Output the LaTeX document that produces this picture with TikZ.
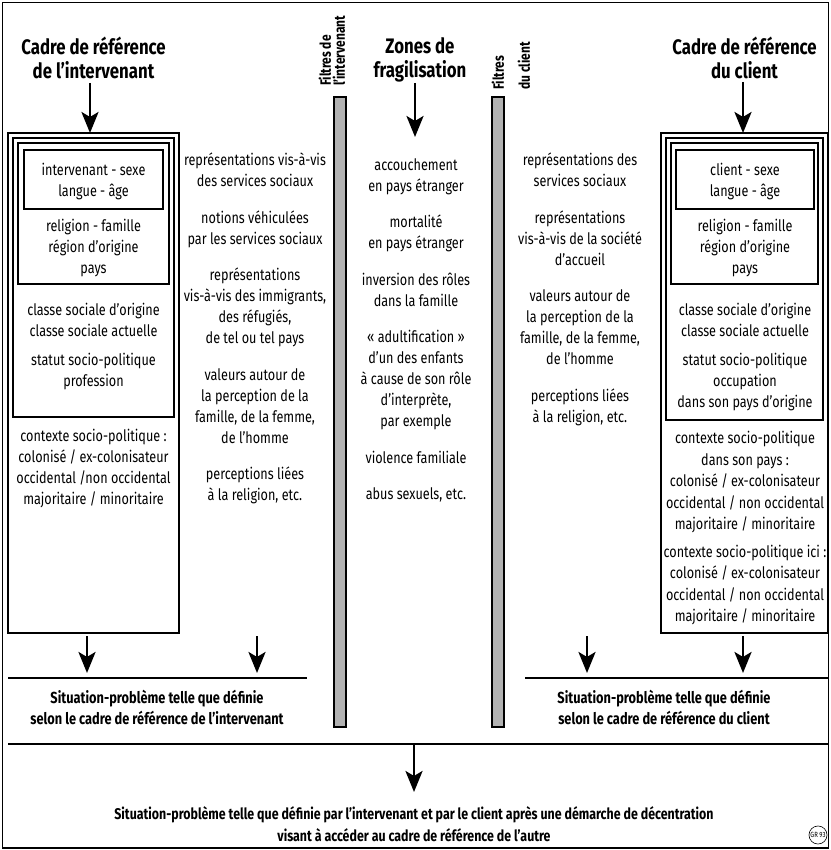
\documentclass[tikz,border=0pt]{standalone}
\usepackage{fontspec}
\setmainfont{Fira Sans}[FakeStretch=0.8]
\usetikzlibrary{arrows.meta}
\newcommand\firststrut{\rule{0pt}{12pt}}
\newcommand\headstrut{\rule{0pt}{15pt}}
\newcommand\sitstrut{\rule{0pt}{11.5pt}}
\tikzset{
  frameline/.style={draw, line width=1.2pt},
  boxline/.style={draw, line width=1.2pt},
  col/.style={align=center, inner sep=0pt, anchor=north, font=\fontsize{15.8}{21}\selectfont},
  colb/.style={align=center, inner sep=0pt, anchor=north, font=\fontsize{15.8}{21.5}\selectfont},
  head/.style={align=center, inner sep=0pt, anchor=north, font=\bfseries\fontsize{21}{24}\selectfont},
  sit/.style={align=center, inner sep=0pt, anchor=north, font=\bfseries\fontsize{16}{21}\selectfont},
  sitf/.style={align=center, inner sep=0pt, anchor=north, font=\bfseries\fontsize{15.5}{22}\selectfont},
  filt/.style={rotate=90, anchor=west, inner sep=0pt, font=\bfseries\fontsize{15}{16}\selectfont},
  bigarrow/.style={line width=2.8pt, -{Stealth[length=21pt,width=17pt,inset=5pt]}},
  hline/.style={line width=1.5pt},
  filterbar/.style={draw, line width=1.2pt, fill=black!30},
}
\begin{document}
\begin{tikzpicture}[x=1pt,y=-1pt]
\useasboundingbox (0,0) rectangle (830,850);
\draw[frameline] (2.5,2.5) rectangle (828.5,848);

% headings
\node[head] (hl) at (93.5,37) {\headstrut Cadre de référence\\de l’intervenant};
\node[head] (hm) at (420,37) {\headstrut Zones de\\fragilisation};
\node[head] (hr) at (744.5,37) {\headstrut Cadre de référence\\du client};

% filter labels and bars
\node[filt] (f1a) at (325,86) {Filtres de};
\node[filt] (f1b) at (339,86) {l’intervenant};
\node[filt] (f2a) at (498,90) {Filtres};
\node[filt] (f2b) at (524,90) {du client};
\draw[filterbar] (334,97) rectangle (346,727);
\draw[filterbar] (492,97) rectangle (504,727);

% top arrows
\coordinate (al0) at (90,83);  \coordinate (al1) at (90,133);
\coordinate (am0) at (415,83); \coordinate (am1) at (415,137);
\coordinate (ar0) at (743,82); \coordinate (ar1) at (743,133);
\draw[bigarrow] (al0) -- (al1);
\draw[bigarrow] (am0) -- (am1);
\draw[bigarrow] (ar0) -- (ar1);

% left frame of reference boxes
\draw[boxline] (8,133) rectangle (179,633);
\draw[boxline] (13,138) rectangle (174,417);
\draw[boxline] (18,143) rectangle (169,284);
\draw[boxline] (24,150) rectangle (163,209);
\node[col] (l1) at (93.5,163) {\firststrut intervenant - sexe\\langue - âge};
\node[col] (l2) at (93.5,218.5) {\firststrut religion - famille\\région d’origine\\pays};
\node[col] (l3) at (93.5,303) {\firststrut classe sociale d’origine\\classe sociale actuelle\\[8pt]statut socio-politique\\profession};
\node[col] (l4) at (93.5,429) {\firststrut contexte socio-politique :\\colonisé / ex-colonisateur\\occidental /non occidental\\majoritaire / minoritaire};

% right frame of reference boxes
\draw[boxline] (661,133) rectangle (828,633);
\draw[boxline] (666,138) rectangle (823,420);
\draw[boxline] (671,143) rectangle (818,284);
\draw[boxline] (676,150) rectangle (814,209);
\node[col] (r1) at (745,163) {\firststrut client - sexe\\langue - âge};
\node[col] (r2) at (745,218.5) {\firststrut religion - famille\\région d’origine\\pays};
\node[col] (r3) at (745,303) {\firststrut classe sociale d’origine\\classe sociale actuelle\\[8pt]statut socio-politique\\occupation\\dans son pays d’origine};
\node[colb] (r4) at (745,431) {\firststrut contexte socio-politique\\dans son pays :\\colonisé / ex-colonisateur\\occidental / non occidental\\majoritaire / minoritaire\\[6pt]contexte socio-politique ici :\\colonisé / ex-colonisateur\\occidental / non occidental\\majoritaire / minoritaire};

% filter columns
\node[col] (fl) at (255,153) {\firststrut représentations vis-à-vis\\des services sociaux\\[15.5pt]notions véhiculées\\par les services sociaux\\[15.5pt]représentations\\vis-à-vis des immigrants,\\des réfugiés,\\de tel ou tel pays\\[15.5pt]valeurs autour de\\la perception de la\\famille, de la femme,\\de l’homme\\[15.5pt]perceptions liées\\à la religion, etc.};
\node[col] (zm) at (416,158) {\firststrut accouchement\\en pays étranger\\[15.5pt]mortalité\\en pays étranger\\[15.5pt]inversion des rôles\\dans la famille\\[15.5pt]« adultification »\\d’un des enfants\\à cause de son rôle\\d’interprète,\\par exemple\\[15.5pt]violence familiale\\[15.5pt]abus sexuels, etc.};
\node[col] (fr) at (580,153) {\firststrut représentations des\\services sociaux\\[15.5pt]représentations\\vis-à-vis de la société\\d’accueil\\[15.5pt]valeurs autour de\\la perception de la\\famille, de la femme,\\de l’homme\\[15.5pt]perceptions liées\\à la religion, etc.};

% bottom arrows
\coordinate (b10) at (87,636);  \coordinate (b11) at (87,673);
\coordinate (b20) at (257,636); \coordinate (b21) at (257,673);
\coordinate (b30) at (587,636); \coordinate (b31) at (587,673);
\coordinate (b40) at (743,636); \coordinate (b41) at (743,673);
\draw[bigarrow] (b10) -- (b11);
\draw[bigarrow] (b20) -- (b21);
\draw[bigarrow] (b30) -- (b31);
\draw[bigarrow] (b40) -- (b41);

\coordinate (hl0) at (8,678);   \coordinate (hl1) at (307,678);
\coordinate (hr0) at (525,678); \coordinate (hr1) at (828,678);
\draw[hline] (hl0) -- (hl1);
\draw[hline] (hr0) -- (hr1);
\node[sit] (sl) at (157,690) {\sitstrut Situation-problème telle que définie\\selon le cadre de référence de l’intervenant};
\node[sit] (sr) at (664,690) {\sitstrut Situation-problème telle que définie\\selon le cadre de référence du client};

\coordinate (hb0) at (8,744); \coordinate (hb1) at (828,744);
\draw[hline] (hb0) -- (hb1);
\coordinate (ab0) at (414,744); \coordinate (ab1) at (414,792);
\draw[bigarrow] (ab0) -- (ab1);
\node[sitf] (sf) at (414,806) {\sitstrut Situation-problème telle que définie par l’intervenant et par le client après une démarche de décentration\\visant à accéder au cadre de référence de l’autre};

\node[circle, draw, line width=0.6pt, inner sep=0.8pt, font=\fontsize{7.5}{8}\selectfont] (gr) at (818,835) {GR 93};
\end{tikzpicture}
\end{document}
